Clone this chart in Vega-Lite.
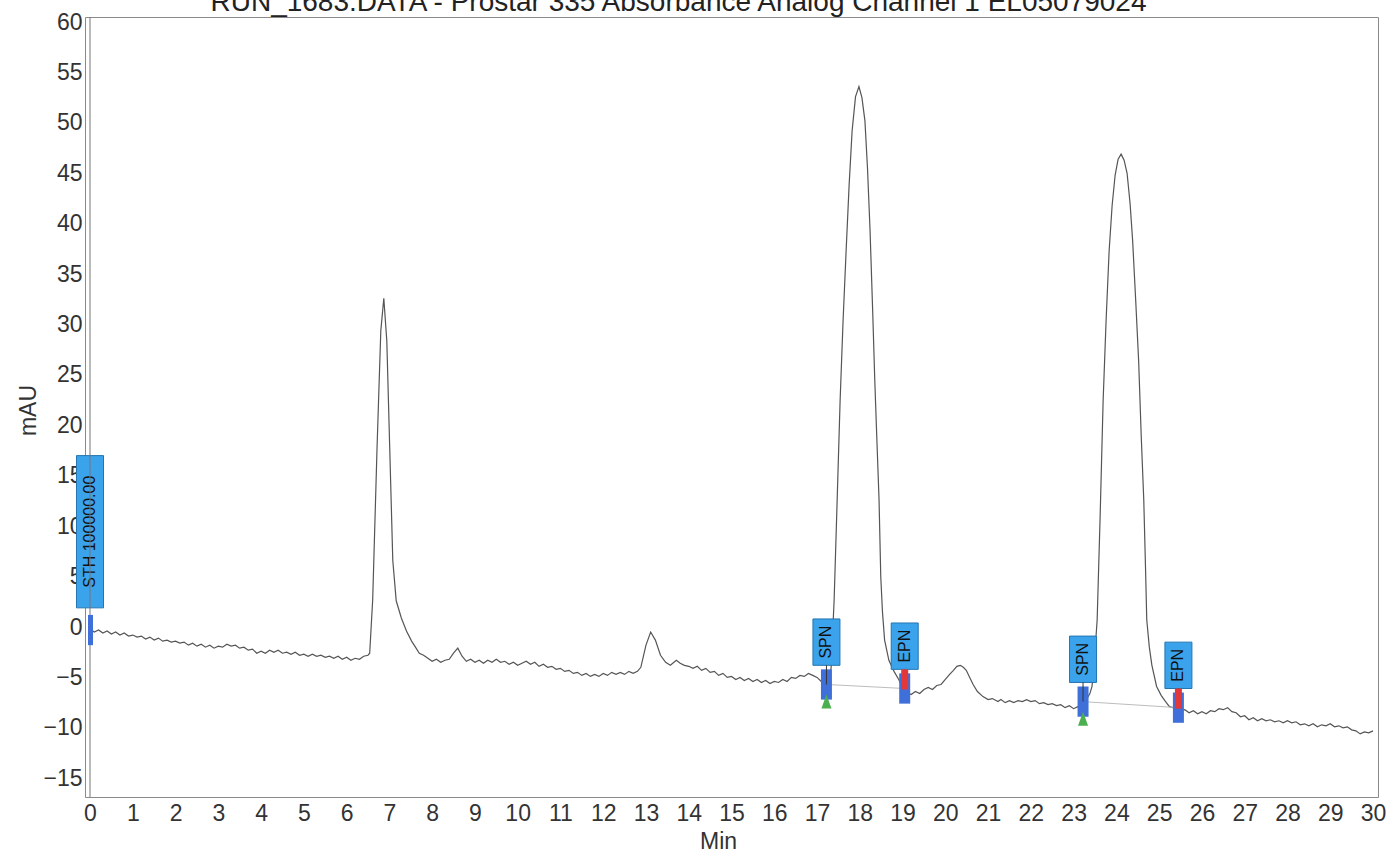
{
  "$schema": "https://vega.github.io/schema/vega-lite/v6.json",
  "width": 1293,
  "height": 780,
  "autosize": {"type": "none"},
  "padding": {"left": 85, "top": 17, "right": 19, "bottom": 58},
  "background": "#ffffff",
  "title": {
    "text": "RUN_1683.DATA - Prostar 335 Absorbance Analog Channel 1 EL05079024",
    "font": "Liberation Sans, Arial, sans-serif",
    "fontSize": 28,
    "fontWeight": "normal",
    "color": "#222222",
    "anchor": "middle",
    "baseline": "alphabetic",
    "offset": 5,
    "dx": -53,
    "dy": 33
  },
  "config": {
    "view": {"stroke": "#8a8a8a", "strokeWidth": 1},
    "axis": {
      "domain": false,
      "ticks": false,
      "grid": false,
      "labelFont": "Liberation Sans, Arial, sans-serif",
      "labelFontSize": 23,
      "labelColor": "#333333",
      "titleFont": "Liberation Sans, Arial, sans-serif",
      "titleFontSize": 23,
      "titleFontWeight": "normal",
      "titleColor": "#333333"
    }
  },
  "datasets": {
    "trace": [
      {"t":0.0,"v":-0.2},{"t":0.1,"v":-0.5},{"t":0.2,"v":-0.3},{"t":0.3,"v":-0.6},{"t":0.4,"v":-0.4},{"t":0.5,"v":-0.7},{"t":0.6,"v":-0.5},{"t":0.7,"v":-0.8},{"t":0.8,"v":-0.6},{"t":0.9,"v":-0.9},
      {"t":1.0,"v":-0.8},{"t":1.1,"v":-1.0},{"t":1.2,"v":-0.9},{"t":1.3,"v":-1.2},{"t":1.4,"v":-1.0},{"t":1.5,"v":-1.3},{"t":1.6,"v":-1.1},{"t":1.7,"v":-1.4},{"t":1.8,"v":-1.3},{"t":1.9,"v":-1.5},
      {"t":2.0,"v":-1.4},{"t":2.1,"v":-1.6},{"t":2.2,"v":-1.5},{"t":2.3,"v":-1.8},{"t":2.4,"v":-1.6},{"t":2.5,"v":-1.9},{"t":2.6,"v":-1.7},{"t":2.7,"v":-2.0},{"t":2.8,"v":-1.8},{"t":2.9,"v":-2.1},
      {"t":3.0,"v":-1.9},{"t":3.1,"v":-2.0},{"t":3.2,"v":-1.7},{"t":3.3,"v":-1.9},{"t":3.4,"v":-1.8},{"t":3.5,"v":-2.1},{"t":3.6,"v":-2.0},{"t":3.7,"v":-2.3},{"t":3.8,"v":-2.2},{"t":3.9,"v":-2.6},
      {"t":4.0,"v":-2.4},{"t":4.1,"v":-2.6},{"t":4.2,"v":-2.3},{"t":4.3,"v":-2.5},{"t":4.4,"v":-2.3},{"t":4.5,"v":-2.6},{"t":4.6,"v":-2.5},{"t":4.7,"v":-2.7},{"t":4.8,"v":-2.5},{"t":4.9,"v":-2.8},
      {"t":5.0,"v":-2.7},{"t":5.1,"v":-2.9},{"t":5.2,"v":-2.7},{"t":5.3,"v":-2.9},{"t":5.4,"v":-2.8},{"t":5.5,"v":-3.0},{"t":5.6,"v":-2.9},{"t":5.7,"v":-3.1},{"t":5.8,"v":-2.9},{"t":5.9,"v":-3.2},
      {"t":6.0,"v":-3.0},{"t":6.1,"v":-3.3},{"t":6.2,"v":-3.1},{"t":6.3,"v":-3.2},{"t":6.4,"v":-2.9},{"t":6.5,"v":-2.8},{"t":6.54,"v":-2.6},{"t":6.61,"v":2.7},{"t":6.71,"v":17.5},{"t":6.8,"v":29.4},
      {"t":6.87,"v":32.6},{"t":6.94,"v":28.4},{"t":7.01,"v":17.5},{"t":7.08,"v":6.6},{"t":7.16,"v":2.6},{"t":7.28,"v":0.9},{"t":7.4,"v":-0.4},{"t":7.52,"v":-1.4},{"t":7.61,"v":-2.0},{"t":7.7,"v":-2.6},
      {"t":7.8,"v":-2.8},{"t":7.9,"v":-3.1},{"t":8.0,"v":-3.4},{"t":8.1,"v":-3.2},{"t":8.2,"v":-3.5},{"t":8.3,"v":-3.3},{"t":8.4,"v":-3.2},{"t":8.5,"v":-2.6},{"t":8.6,"v":-2.1},{"t":8.7,"v":-2.9},
      {"t":8.8,"v":-3.4},{"t":8.9,"v":-3.2},{"t":9.0,"v":-3.5},{"t":9.1,"v":-3.3},{"t":9.2,"v":-3.6},{"t":9.3,"v":-3.3},{"t":9.4,"v":-3.5},{"t":9.5,"v":-3.2},{"t":9.6,"v":-3.5},{"t":9.7,"v":-3.4},
      {"t":9.8,"v":-3.7},{"t":9.9,"v":-3.5},{"t":10.0,"v":-3.8},{"t":10.1,"v":-3.6},{"t":10.2,"v":-3.4},{"t":10.3,"v":-3.7},{"t":10.4,"v":-3.5},{"t":10.5,"v":-3.9},{"t":10.6,"v":-3.7},{"t":10.7,"v":-4.0},
      {"t":10.8,"v":-3.9},{"t":10.9,"v":-4.2},{"t":11.0,"v":-4.1},{"t":11.1,"v":-4.4},{"t":11.2,"v":-4.3},{"t":11.3,"v":-4.6},{"t":11.4,"v":-4.5},{"t":11.5,"v":-4.8},{"t":11.6,"v":-4.6},{"t":11.7,"v":-4.9},
      {"t":11.8,"v":-4.7},{"t":11.9,"v":-4.9},{"t":12.0,"v":-4.6},{"t":12.1,"v":-4.8},{"t":12.2,"v":-4.5},{"t":12.3,"v":-4.7},{"t":12.4,"v":-4.5},{"t":12.5,"v":-4.7},{"t":12.6,"v":-4.4},{"t":12.7,"v":-4.6},
      {"t":12.8,"v":-4.4},{"t":12.88,"v":-4.0},{"t":13.0,"v":-1.8},{"t":13.11,"v":-0.5},{"t":13.22,"v":-1.3},{"t":13.34,"v":-2.8},{"t":13.46,"v":-3.5},{"t":13.57,"v":-3.8},{"t":13.71,"v":-3.3},{"t":13.8,"v":-3.6},
      {"t":13.9,"v":-3.8},{"t":14.0,"v":-3.9},{"t":14.1,"v":-4.1},{"t":14.2,"v":-3.9},{"t":14.3,"v":-4.3},{"t":14.4,"v":-4.1},{"t":14.5,"v":-4.5},{"t":14.6,"v":-4.4},{"t":14.7,"v":-4.8},{"t":14.8,"v":-4.6},
      {"t":14.9,"v":-5.0},{"t":15.0,"v":-4.9},{"t":15.1,"v":-5.2},{"t":15.2,"v":-5.0},{"t":15.3,"v":-5.3},{"t":15.4,"v":-5.1},{"t":15.5,"v":-5.4},{"t":15.6,"v":-5.2},{"t":15.7,"v":-5.5},{"t":15.8,"v":-5.3},
      {"t":15.9,"v":-5.6},{"t":16.0,"v":-5.4},{"t":16.1,"v":-5.5},{"t":16.2,"v":-5.2},{"t":16.3,"v":-5.4},{"t":16.4,"v":-5.0},{"t":16.5,"v":-5.1},{"t":16.6,"v":-4.8},{"t":16.7,"v":-4.9},{"t":16.8,"v":-4.6},
      {"t":16.9,"v":-4.8},{"t":17.0,"v":-5.0},{"t":17.1,"v":-5.4},{"t":17.2,"v":-5.7},{"t":17.28,"v":-5.3},{"t":17.33,"v":-4.0},{"t":17.4,"v":2.7},{"t":17.47,"v":12.5},{"t":17.54,"v":22.5},{"t":17.61,"v":30.5},
      {"t":17.68,"v":37.3},{"t":17.75,"v":43.8},{"t":17.82,"v":49.2},{"t":17.9,"v":52.6},{"t":17.98,"v":53.6},{"t":18.05,"v":52.5},{"t":18.12,"v":50.2},{"t":18.18,"v":45.5},{"t":18.24,"v":39.3},{"t":18.3,"v":31.5},
      {"t":18.35,"v":24.5},{"t":18.4,"v":18.5},{"t":18.45,"v":12.6},{"t":18.49,"v":5.0},{"t":18.53,"v":1.5},{"t":18.58,"v":-1.3},{"t":18.68,"v":-3.3},{"t":18.8,"v":-4.4},{"t":18.91,"v":-5.2},{"t":19.0,"v":-6.0},
      {"t":19.1,"v":-6.5},{"t":19.2,"v":-6.7},{"t":19.3,"v":-6.4},{"t":19.4,"v":-6.6},{"t":19.5,"v":-6.2},{"t":19.6,"v":-6.0},{"t":19.7,"v":-6.2},{"t":19.8,"v":-5.8},{"t":19.9,"v":-5.7},{"t":20.0,"v":-5.2},
      {"t":20.1,"v":-4.7},{"t":20.19,"v":-4.3},{"t":20.27,"v":-3.9},{"t":20.35,"v":-3.8},{"t":20.42,"v":-4.0},{"t":20.49,"v":-4.3},{"t":20.57,"v":-5.0},{"t":20.65,"v":-5.7},{"t":20.75,"v":-6.4},{"t":20.88,"v":-6.9},
      {"t":21.0,"v":-7.2},{"t":21.1,"v":-7.1},{"t":21.23,"v":-7.4},{"t":21.3,"v":-7.2},{"t":21.4,"v":-7.5},{"t":21.5,"v":-7.3},{"t":21.6,"v":-7.5},{"t":21.7,"v":-7.3},{"t":21.8,"v":-7.4},{"t":21.9,"v":-7.2},
      {"t":22.0,"v":-7.4},{"t":22.1,"v":-7.3},{"t":22.2,"v":-7.6},{"t":22.3,"v":-7.5},{"t":22.4,"v":-7.7},{"t":22.5,"v":-7.6},{"t":22.6,"v":-7.8},{"t":22.7,"v":-7.7},{"t":22.8,"v":-8.0},{"t":22.9,"v":-7.8},
      {"t":23.0,"v":-8.1},{"t":23.1,"v":-7.9},{"t":23.2,"v":-7.5},{"t":23.3,"v":-7.2},{"t":23.38,"v":-6.6},{"t":23.43,"v":-5.9},{"t":23.49,"v":-3.0},{"t":23.55,"v":0.7},{"t":23.62,"v":11.0},{"t":23.69,"v":22.5},
      {"t":23.76,"v":30.5},{"t":23.83,"v":37.3},{"t":23.9,"v":41.8},{"t":23.97,"v":44.8},{"t":24.04,"v":46.4},{"t":24.11,"v":46.9},{"t":24.18,"v":46.3},{"t":24.25,"v":45.0},{"t":24.32,"v":42.0},{"t":24.38,"v":38.3},
      {"t":24.45,"v":32.5},{"t":24.52,"v":26.4},{"t":24.58,"v":19.0},{"t":24.64,"v":12.6},{"t":24.68,"v":6.0},{"t":24.71,"v":0.7},{"t":24.77,"v":-2.0},{"t":24.83,"v":-3.8},{"t":24.94,"v":-5.9},{"t":25.05,"v":-6.8},
      {"t":25.15,"v":-7.4},{"t":25.24,"v":-7.9},{"t":25.32,"v":-8.0},{"t":25.4,"v":-8.0},{"t":25.5,"v":-8.3},{"t":25.6,"v":-8.2},{"t":25.7,"v":-8.5},{"t":25.8,"v":-8.3},{"t":25.9,"v":-8.6},{"t":26.0,"v":-8.4},
      {"t":26.1,"v":-8.6},{"t":26.2,"v":-8.3},{"t":26.3,"v":-8.4},{"t":26.4,"v":-8.1},{"t":26.5,"v":-8.2},{"t":26.6,"v":-8.0},{"t":26.7,"v":-8.4},{"t":26.8,"v":-8.5},{"t":26.9,"v":-8.9},{"t":27.0,"v":-8.8},
      {"t":27.1,"v":-9.2},{"t":27.2,"v":-9.0},{"t":27.3,"v":-9.3},{"t":27.4,"v":-9.1},{"t":27.5,"v":-9.3},{"t":27.6,"v":-9.2},{"t":27.7,"v":-9.4},{"t":27.8,"v":-9.3},{"t":27.9,"v":-9.5},{"t":28.0,"v":-9.3},
      {"t":28.1,"v":-9.5},{"t":28.2,"v":-9.4},{"t":28.3,"v":-9.7},{"t":28.4,"v":-9.6},{"t":28.5,"v":-9.8},{"t":28.6,"v":-9.6},{"t":28.7,"v":-9.9},{"t":28.8,"v":-9.7},{"t":28.9,"v":-9.8},{"t":29.0,"v":-9.6},
      {"t":29.1,"v":-9.9},{"t":29.2,"v":-9.8},{"t":29.3,"v":-10.0},{"t":29.4,"v":-9.9},{"t":29.5,"v":-10.2},{"t":29.6,"v":-10.3},{"t":29.7,"v":-10.6},{"t":29.8,"v":-10.4},{"t":29.9,"v":-10.5},{"t":30.0,"v":-10.3}
    ],
    "events": [
      {"t":0.0,"kind":"STH","label":"STH 100000.00","level":-0.3},
      {"t":17.22,"kind":"SPN","label":"SPN","level":-5.7},
      {"t":19.05,"kind":"EPN","label":"EPN","level":-6.1},
      {"t":23.22,"kind":"SPN","label":"SPN","level":-7.4},
      {"t":25.45,"kind":"EPN","label":"EPN","level":-8.0}
    ],
    "baselines": [
      {"t0":17.22,"v0":-5.7,"t1":19.05,"v1":-6.1},
      {"t0":23.22,"v0":-7.4,"t1":25.45,"v1":-8.0}
    ]
  },
  "layer": [
    {
      "data": {"name": "trace"},
      "mark": {"type": "line", "color": "#555555", "strokeWidth": 1.2, "interpolate": "linear"},
      "encoding": {
        "x": {"field": "t", "type": "quantitative", "title": "Min",
              "scale": {"domain": [0, 30], "nice": false, "zero": false},
              "axis": {"values": [0,1,2,3,4,5,6,7,8,9,10,11,12,13,14,15,16,17,18,19,20,21,22,23,24,25,26,27,28,29,30],
                       "labelPadding": 5, "titleX": 633, "titleY": 44, "titleBaseline": "middle", "titleAlign": "center"}},
        "y": {"field": "v", "type": "quantitative", "title": "mAU",
              "scale": {"domain": [-16.86, 60.5], "nice": false, "zero": false},
              "axis": {"values": [-15,-10,-5,0,5,10,15,20,25,30,35,40,45,50,55,60],
                       "labelPadding": 3, "titleAngle": 270, "titleX": -57, "titleY": 393,
                       "titleBaseline": "middle", "titleAlign": "center"}}
      }
    },
    {
      "data": {"name": "baselines"},
      "mark": {"type": "rule", "color": "#bdbdbd", "strokeWidth": 1},
      "encoding": {
        "x": {"field": "t0", "type": "quantitative", "title": "Min", "scale": {"domain": [0, 30], "nice": false, "zero": false}},
        "x2": {"field": "t1"},
        "y": {"field": "v0", "type": "quantitative", "title": "mAU", "scale": {"domain": [-16.86, 60.5], "nice": false, "zero": false}},
        "y2": {"field": "v1"}
      }
    },
    {
      "data": {"name": "events"},
      "transform": [
        {"calculate": "datum.kind == 'STH' ? datum.level + 2.2 : datum.level + 1.9", "as": "lo"},
        {"calculate": "datum.kind == 'STH' ? datum.level + 17.3 : datum.level + 6.5", "as": "hi"}
      ],
      "mark": {"type": "bar", "width": 27, "color": "#3aa3ec", "stroke": "#2475b0", "strokeWidth": 1},
      "encoding": {
        "x": {"field": "t", "type": "quantitative", "title": "Min", "scale": {"domain": [0, 30], "nice": false, "zero": false}},
        "y": {"field": "lo", "type": "quantitative", "title": "mAU", "scale": {"domain": [-16.86, 60.5], "nice": false, "zero": false}},
        "y2": {"field": "hi"}
      }
    },
    {
      "data": {"name": "events"},
      "transform": [
        {"calculate": "datum.kind == 'STH' ? datum.level + 9.75 : datum.level + 4.2", "as": "mid"}
      ],
      "mark": {"type": "text", "angle": 270, "align": "center", "baseline": "middle",
               "font": "Liberation Sans, Arial, sans-serif", "fontSize": 16, "color": "#111111"},
      "encoding": {
        "x": {"field": "t", "type": "quantitative", "title": "Min", "scale": {"domain": [0, 30], "nice": false, "zero": false}},
        "y": {"field": "mid", "type": "quantitative", "title": "mAU", "scale": {"domain": [-16.86, 60.5], "nice": false, "zero": false}},
        "text": {"field": "label"}
      }
    },
    {
      "data": {"name": "events"},
      "transform": [
        {"filter": "datum.kind == 'STH'"}
      ],
      "mark": {"type": "rule", "color": "#777777", "strokeWidth": 1},
      "encoding": {
        "x": {"field": "t", "type": "quantitative", "title": "Min", "scale": {"domain": [0, 30], "nice": false, "zero": false}}
      }
    },
    {
      "data": {"name": "events"},
      "transform": [
        {"calculate": "datum.level - 1.5", "as": "b0"},
        {"calculate": "datum.level + 1.5", "as": "b1"},
        {"filter": "datum.kind != 'STH'"}
      ],
      "mark": {"type": "bar", "width": 11, "color": "#3f6fd8"},
      "encoding": {
        "x": {"field": "t", "type": "quantitative", "title": "Min", "scale": {"domain": [0, 30], "nice": false, "zero": false}},
        "y": {"field": "b0", "type": "quantitative", "title": "mAU", "scale": {"domain": [-16.86, 60.5], "nice": false, "zero": false}},
        "y2": {"field": "b1"}
      }
    },
    {
      "data": {"name": "events"},
      "transform": [
        {"calculate": "datum.level - 1.5", "as": "b0"},
        {"calculate": "datum.level + 1.5", "as": "b1"},
        {"filter": "datum.kind == 'STH'"}
      ],
      "mark": {"type": "bar", "width": 5, "color": "#3f6fd8", "xOffset": 0.5},
      "encoding": {
        "x": {"field": "t", "type": "quantitative", "title": "Min", "scale": {"domain": [0, 30], "nice": false, "zero": false}},
        "y": {"field": "b0", "type": "quantitative", "title": "mAU", "scale": {"domain": [-16.86, 60.5], "nice": false, "zero": false}},
        "y2": {"field": "b1"}
      }
    },
    {
      "data": {"name": "events"},
      "transform": [
        {"calculate": "datum.level + 1.9", "as": "lo"},
        {"filter": "datum.kind != 'STH'"}
      ],
      "mark": {"type": "rule", "color": "#333333", "strokeWidth": 1},
      "encoding": {
        "x": {"field": "t", "type": "quantitative", "title": "Min", "scale": {"domain": [0, 30], "nice": false, "zero": false}},
        "y": {"field": "level", "type": "quantitative", "title": "mAU", "scale": {"domain": [-16.86, 60.5], "nice": false, "zero": false}},
        "y2": {"field": "lo"}
      }
    },
    {
      "data": {"name": "events"},
      "transform": [
        {"calculate": "datum.level + 1.9", "as": "lo"},
        {"calculate": "datum.level - 0.1", "as": "r0"},
        {"filter": "datum.kind == 'EPN'"}
      ],
      "mark": {"type": "bar", "width": 7, "color": "#e2383a"},
      "encoding": {
        "x": {"field": "t", "type": "quantitative", "title": "Min", "scale": {"domain": [0, 30], "nice": false, "zero": false}},
        "y": {"field": "r0", "type": "quantitative", "title": "mAU", "scale": {"domain": [-16.86, 60.5], "nice": false, "zero": false}},
        "y2": {"field": "lo"}
      }
    },
    {
      "data": {"name": "events"},
      "transform": [
        {"calculate": "datum.level - 1.7", "as": "g"},
        {"filter": "datum.kind == 'SPN'"}
      ],
      "mark": {"type": "point", "shape": "M0,-1L0.72,1L-0.72,1Z", "size": 196, "filled": true, "color": "#4cb050", "opacity": 1},
      "encoding": {
        "x": {"field": "t", "type": "quantitative", "title": "Min", "scale": {"domain": [0, 30], "nice": false, "zero": false}},
        "y": {"field": "g", "type": "quantitative", "title": "mAU", "scale": {"domain": [-16.86, 60.5], "nice": false, "zero": false}}
      }
    }
  ]
}
